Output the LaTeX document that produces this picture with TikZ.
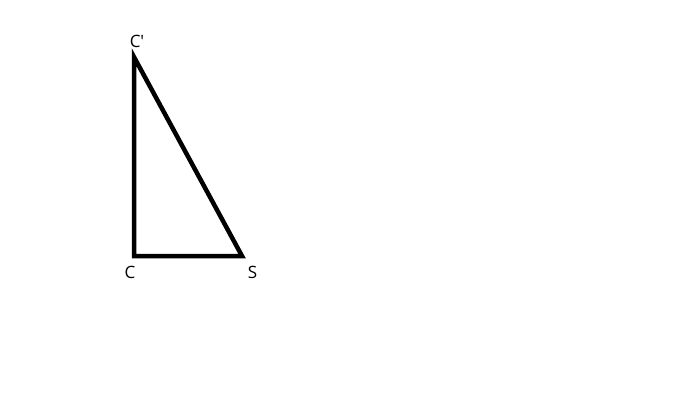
\documentclass[tikz,border=0pt]{standalone}
\usepackage{fontspec}
\setmainfont{Open Sans}
\tikzset{lbl/.style={font=\fontsize{17}{20}\selectfont, inner sep=0pt, anchor=center},
  edge/.style={line width=4.5pt, line join=miter}}
\begin{document}
\begin{tikzpicture}[x=1pt,y=-1pt]
\useasboundingbox (0,0) rectangle (690,407);
\coordinate (Cp) at (134,57);
\coordinate (C) at (134,256);
\coordinate (S) at (242,256);
\draw[edge] (Cp) -- (C) -- (S) -- cycle;
\node[lbl] (lCp) at (137,41) {C\textquotesingle};
\node[lbl] (lC) at (130,272) {C};
\node[lbl] (lS) at (252.5,272) {S};
\end{tikzpicture}
\end{document}
